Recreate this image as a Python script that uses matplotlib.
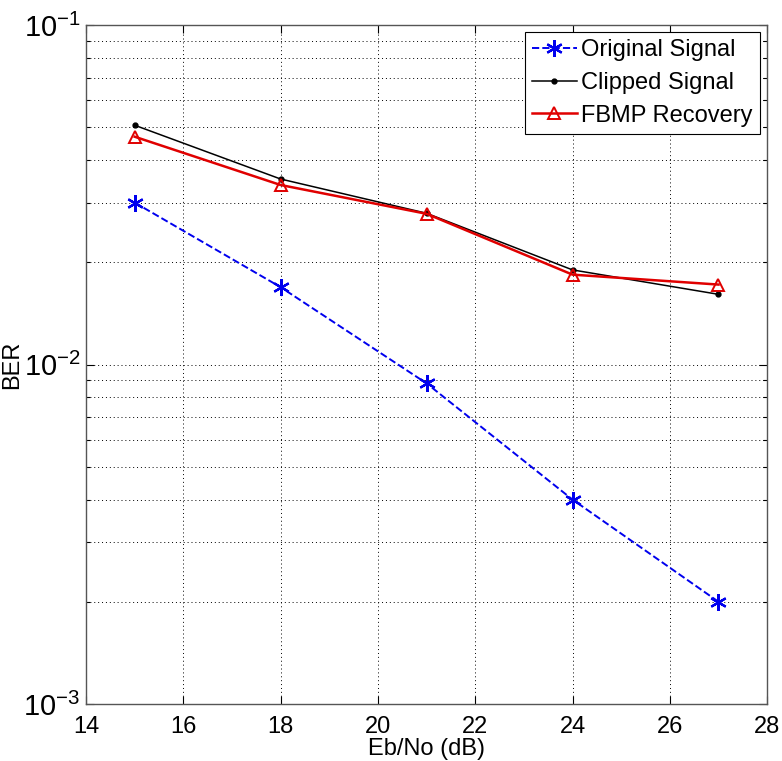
import numpy as np
import matplotlib
matplotlib.use('Agg')
from matplotlib import pyplot as plt
from matplotlib.ticker import LogLocator, FuncFormatter, NullFormatter

plt.rcParams['font.family'] = ['Liberation Sans', 'DejaVu Sans']
plt.rcParams['mathtext.fontset'] = 'custom'
plt.rcParams['mathtext.rm'] = 'Liberation Sans'

# BER vs Eb/No
ebno = [15, 18, 21, 24, 27]
ber_original = [0.0300, 0.0169, 0.0088, 0.0040, 0.0020]
ber_clipped = [0.0507, 0.0352, 0.0279, 0.0190, 0.0161]
ber_fbmp = [0.0469, 0.0338, 0.0278, 0.0184, 0.0172]

fig = plt.figure(figsize=(7.82, 7.61), dpi=100)
ax = fig.add_axes([0.110, 0.075, 0.871, 0.892])

# asterisk marker like matlab '*'
ax.semilogy(ebno, ber_original, '--', color='#0000ee', lw=1.4,
            marker=(6, 2, 0), ms=12, mew=1.6, label='Original Signal')
ax.semilogy(ebno, ber_clipped, '-', color='black', lw=1.1,
            marker='.', ms=7, label='Clipped Signal')
ax.semilogy(ebno, ber_fbmp, '-', color='#e00000', lw=1.8,
            marker='^', ms=8, mfc='none', mew=1.4, label='FBMP Recovery')

ax.set_xlim(14, 28)
ax.set_ylim(1e-3, 1e-1)
ax.set_xticks(np.arange(14, 29, 2))
ax.yaxis.set_major_locator(LogLocator(base=10))
ax.yaxis.set_minor_locator(LogLocator(base=10, subs=np.arange(2, 10)))
ax.yaxis.set_minor_formatter(NullFormatter())
ax.yaxis.set_major_formatter(FuncFormatter(
    lambda v, p: r'$\mathregular{10^{%d}}$' % int(round(np.log10(v)))))

ax.tick_params(which='both', direction='in', top=True, right=True,
               labelsize=17, width=0.8)
ax.tick_params(which='major', length=6)
ax.tick_params(which='minor', length=3)
ax.tick_params(axis='x', which='major', pad=9)
ax.tick_params(axis='y', which='major', labelsize=21, pad=4)
for s in ax.spines.values():
    s.set_color('#555555')
    s.set_linewidth(1.0)

ax.grid(True, which='major', ls=(0, (1, 3)), color='black', lw=0.7)
ax.grid(True, which='minor', axis='y', ls=(0, (1, 3)), color='black', lw=0.7)

ax.set_xlabel('Eb/No (dB)', fontsize=17, labelpad=0)
ax.set_ylabel('BER', fontsize=17, labelpad=0)

leg = ax.legend(loc='upper right', fontsize=17, fancybox=False,
                framealpha=1, edgecolor='black', borderpad=0.3,
                handlelength=1.9, handletextpad=0.2, labelspacing=0.45,
                borderaxespad=0.3)
leg.get_frame().set_linewidth(0.8)

fig.savefig('out.png', dpi=100)
